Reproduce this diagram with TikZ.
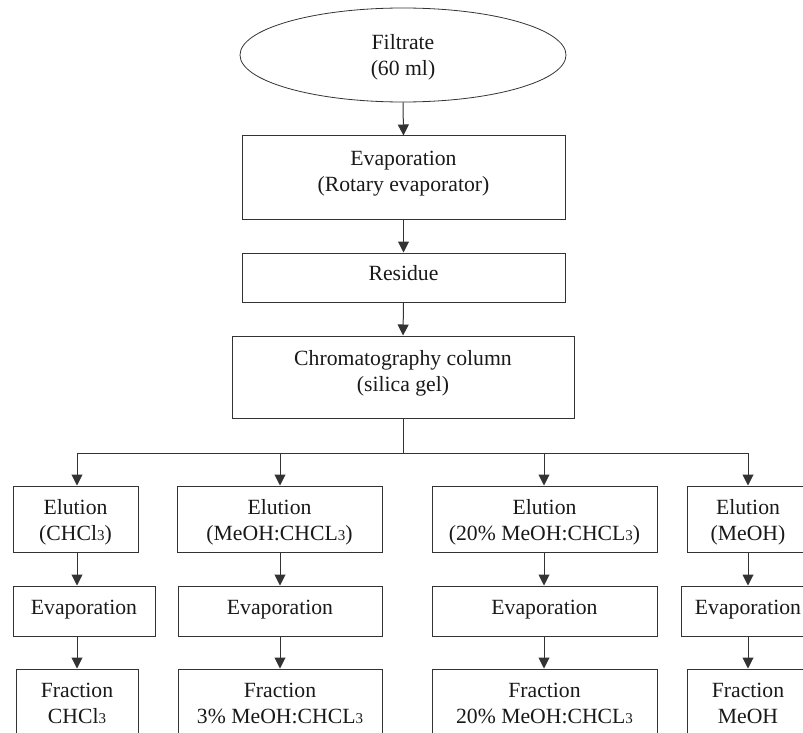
\documentclass[tikz,border=0pt]{standalone}
\usepackage{fontspec}
\setmainfont{Liberation Serif}
\usetikzlibrary{shapes.geometric,arrows.meta}
\newcommand\subn[1]{\raisebox{-0.5pt}{\fontsize{15}{15}\selectfont #1}}
\newcommand\mytop[1]{\rule{0pt}{#1pt}}
\newcommand\mybot[1]{\rule[-#1pt]{0pt}{#1pt}}
\begin{document}
\begin{tikzpicture}[x=1pt,y=-1pt,
  every node/.style={font=\fontsize{21.7}{26}\selectfont, align=center, inner sep=0pt, text=black!90},
  boxn/.style={draw=black!80, line width=1pt, rectangle},
  ell/.style={draw=black!80, line width=0.8pt, ellipse},
  conn/.style={draw=black!80, line width=1pt},
  arr/.style={draw=black!80, line width=1pt, -{Triangle[width=11pt,length=11pt]}}]
\useasboundingbox (0,0) rectangle (803,733);
\clip (0,0) rectangle (803,733);
\node[ell, minimum width=326pt, minimum height=94pt] (fil) at (403,55) {\mytop{21}Filtrate\\(60 ml)\mybot{5}};
\node[boxn, minimum width=323pt, minimum height=83pt] (evp) at (403.5,177.5) {\mytop{15}Evaporation\\(Rotary evaporator)\mybot{14}};
\node[boxn, minimum width=323pt, minimum height=49pt] (res) at (403.5,277.5) {\mytop{15}Residue\mybot{8.5}};
\node[boxn, minimum width=342pt, minimum height=82pt] (chr) at (403,377) {\mytop{15}Chromatography column\\(silica gel)\mybot{13}};
% elution row
\node[boxn, minimum width=125pt, minimum height=66pt] (elu1) at (75.5,519) {\mytop{21}Elution\\(CHCl\subn{3})\mybot{5}};
\node[boxn, minimum width=205pt, minimum height=66pt] (elu2) at (279.5,519) {\mytop{21}Elution\\(MeOH:CHCL\subn{3})\mybot{5}};
\node[boxn, minimum width=225pt, minimum height=66pt] (elu3) at (544.5,519) {\mytop{21}Elution\\(20\% MeOH:CHCL\subn{3})\mybot{5}};
\node[boxn, minimum width=122pt, minimum height=66pt] (elu4) at (748,519) {\mytop{21}Elution\\(MeOH)\mybot{5}};
% evaporation row
\node[boxn, minimum width=142pt, minimum height=50pt] (eva1) at (84,611) {\mytop{15}Evaporation\mybot{8}};
\node[boxn, minimum width=204pt, minimum height=50pt] (eva2) at (280,611) {\mytop{15}Evaporation\mybot{8}};
\node[boxn, minimum width=225pt, minimum height=50pt] (eva3) at (544.5,611) {\mytop{15}Evaporation\mybot{8}};
\node[boxn, minimum width=134pt, minimum height=50pt] (eva4) at (748,611) {\mytop{15}Evaporation\mybot{8}};
% fraction row
\node[boxn, minimum width=122pt, minimum height=82pt] (fra1) at (77,710) {\mytop{15}Fraction\\CHCl\subn{3}\mybot{15}};
\node[boxn, minimum width=204pt, minimum height=82pt] (fra2) at (280,710) {\mytop{15}Fraction\\3\% MeOH:CHCL\subn{3}\mybot{15}};
\node[boxn, minimum width=225pt, minimum height=82pt] (fra3) at (544.5,710) {\mytop{15}Fraction\\20\% MeOH:CHCL\subn{3}\mybot{15}};
\node[boxn, minimum width=122pt, minimum height=82pt] (fra4) at (748,710) {\mytop{15}Fraction\\MeOH\mybot{15}};
% branch coordinates
\coordinate (b1) at (77,453);
\coordinate (b2) at (280,453);
\coordinate (b3) at (544,453);
\coordinate (b4) at (748,453);
% connectors
\draw[arr] (fil.south) -- (evp.north);
\draw[arr] (evp.south) -- (res.north);
\draw[arr] (res.south) -- (chr.north);
\draw[conn] (chr.south) -- (chr.south |- b1);
\draw[conn] (b1) -- (b4);
\foreach \i in {1,2,3,4}{
  \draw[arr] (b\i) -- (b\i |- elu\i.north);
  \draw[arr] (b\i |- elu\i.south) -- (b\i |- eva\i.north);
  \draw[arr] (b\i |- eva\i.south) -- (b\i |- fra\i.north);
}
\end{tikzpicture}
\end{document}
